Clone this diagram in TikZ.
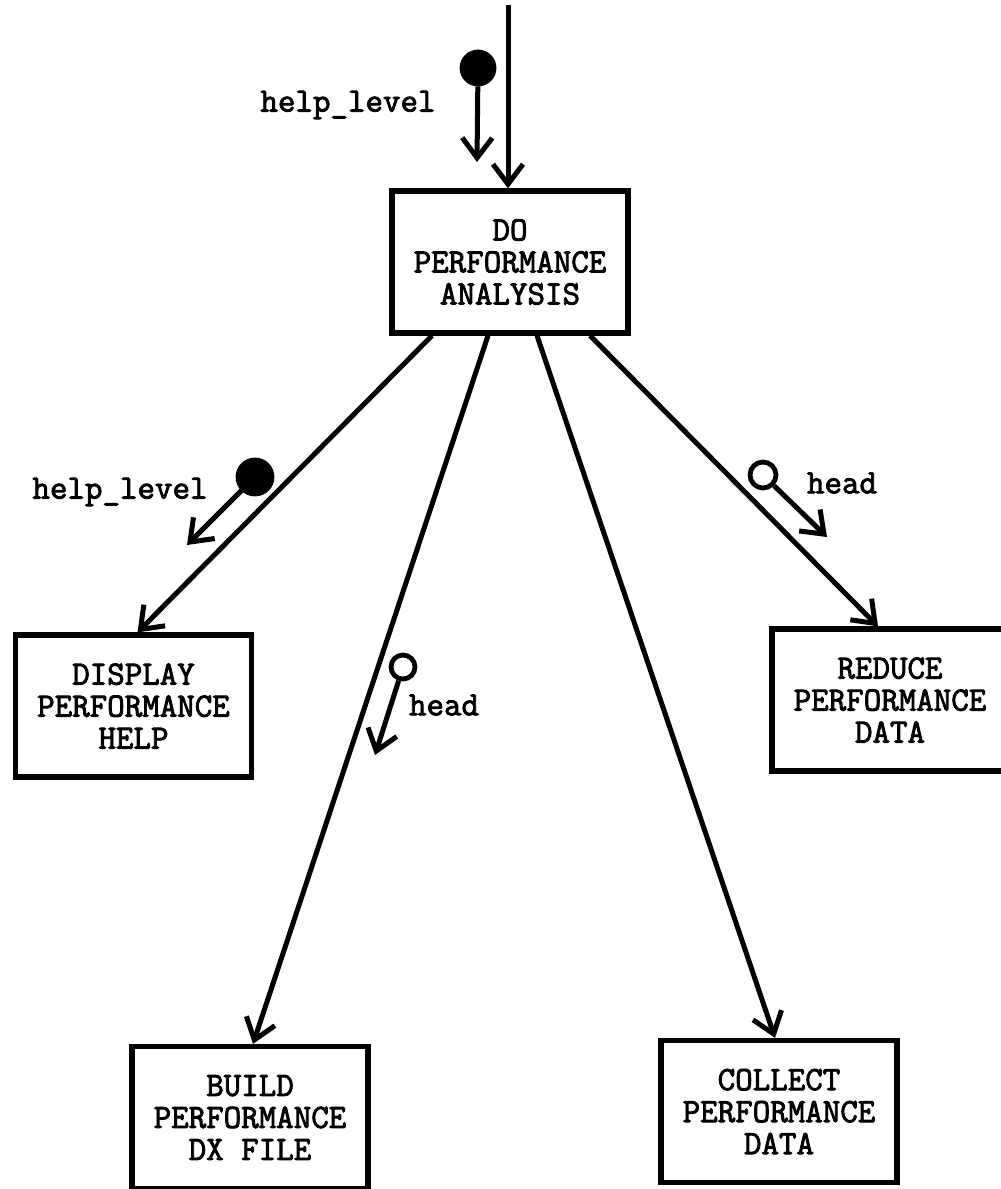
\documentclass[tikz,border=0pt]{standalone}
\usepackage{fontspec}
\newfontfamily\chartfont[FakeBold=2.5]{Latin Modern Mono}
\usetikzlibrary{arrows.meta}

\tikzset{
  proc/.style={draw, line width=2.6pt, minimum width=118pt, minimum height=71pt,
    align=center, inner sep=0pt, font=\chartfont\fontsize{17}{16}\selectfont},
  flow/.style={line width=2.5pt, -{Straight Barb[length=10pt,width=15pt]}},
  datum/.style={circle, draw, line width=2.4pt, inner sep=0pt},
  lbl/.style={font=\chartfont\fontsize{17}{16}\selectfont, inner sep=0pt}
}

\begin{document}
\begin{tikzpicture}[x=0.5pt,y=-0.5pt]
  \useasboundingbox (0,0) rectangle (1001,1189);

  % modules
  \node[proc] (do) at (510,262) {DO\\PERFORMANCE\\ANALYSIS};
  \node[proc] (display) at (133.5,706) {DISPLAY\\PERFORMANCE\\HELP};
  \node[proc] (build) at (250,1117.5) {BUILD\\PERFORMANCE\\DX FILE};
  \node[proc] (collect) at (779,1111.5) {COLLECT\\PERFORMANCE\\DATA};
  \node[proc] (reduce) at (890,700) {REDUCE\\PERFORMANCE\\DATA};

  % calls
  \coordinate (entry) at (508,5);
  \draw[flow] (entry) -- (entry |- do.north);
  \draw[flow] ([xshift=-39pt]do.south) -- ([xshift=2pt]display.north);
  \draw[flow] ([xshift=-11pt]do.south) -- ([xshift=1.5pt]build.north);
  \draw[flow] ([xshift=13.5pt]do.south) -- ([xshift=-2pt]collect.north);
  \draw[flow] ([xshift=40pt]do.south) -- ([xshift=-6pt]reduce.north);

  % couples
  \node[datum, fill, minimum size=16pt] (flag1) at (478,68) {};
  \coordinate (flag1end) at (477,162);
  \draw[flow] (flag1) -- (flag1end);
  \node[lbl] (hl1) at (348,105) {help\_level};

  \node[datum, fill, minimum size=17pt] (flag2) at (255,477) {};
  \coordinate (flag2end) at (187,545);
  \draw[flow] (flag2) -- (flag2end);
  \node[lbl] (hl2) at (120,492) {help\_level};

  \node[datum, fill=white, minimum size=12pt] (data1) at (403,667) {};
  \coordinate (data1end) at (375,755);
  \draw[flow] (data1) -- (data1end);
  \node[lbl] (hd1) at (444,705) {head};

  \node[datum, fill=white, minimum size=13pt] (data2) at (763,475) {};
  \coordinate (data2end) at (827,537);
  \draw[flow] (data2) -- (data2end);
  \node[lbl] (hd2) at (842,483) {head};
\end{tikzpicture}
\end{document}
